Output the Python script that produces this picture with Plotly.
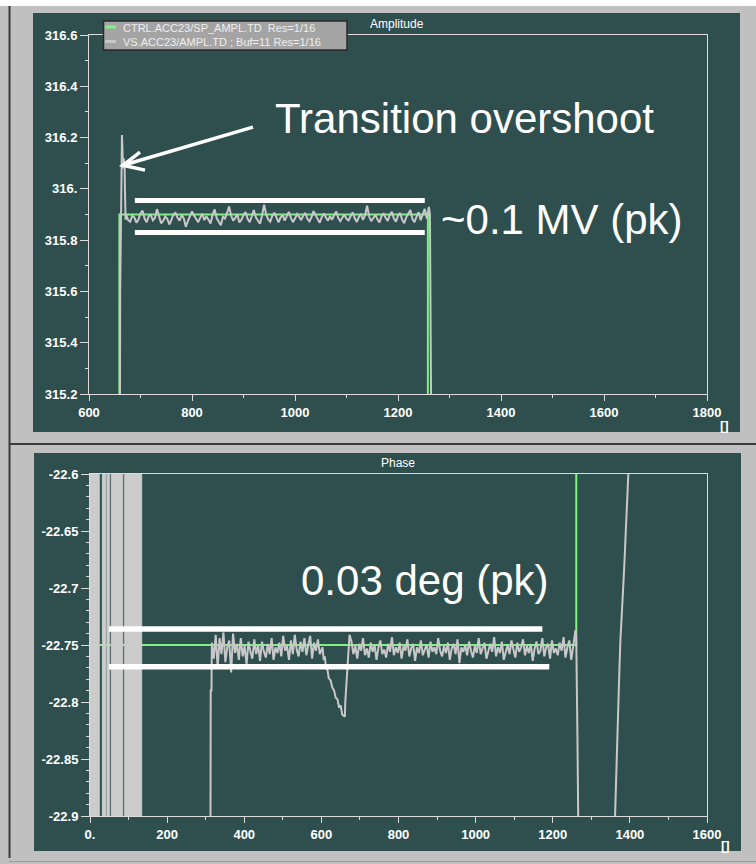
import numpy as np
import plotly.graph_objects as go

W, H = 756, 864

# ---------------- Amplitude panel (MV) ----------------
SP_NAME = "CTRL.ACC23/SP_AMPL.TD  Res=1/16"
MEAS_NAME = "VS.ACC23/AMPL.TD ; Buf=11 Res=1/16"

amp_sp_x = [600, 659, 659, 1258, 1258, 1800]
amp_sp_y = [314.9, 314.9, 315.9, 315.9, 314.9, 314.9]

# rising edge with the transition overshoot
amp_rise_x = [600, 660, 660.5, 661, 662, 663, 664, 665, 666, 667, 669, 670, 671]
amp_rise_y = [314.9, 314.9, 315.59, 315.73, 315.95, 316.10, 316.21, 316.15,
              316.08, 316.12, 316.10, 315.98, 315.88]

# flat top, one sample every 4 units from 672
amp_flat_x0, amp_flat_dx = 672, 4
amp_flat_y = [
    315.902, 315.878, 315.872, 315.895, 315.889, 315.868, 315.880, 315.904, 315.915, 315.884, 315.870, 315.893,
    315.899, 315.877, 315.886, 315.921, 315.894, 315.866, 315.875, 315.892, 315.883, 315.861, 315.879, 315.901,
    315.906, 315.887, 315.876, 315.898, 315.885, 315.852, 315.874, 315.890, 315.912, 315.896, 315.881, 315.870,
    315.888, 315.903, 315.878, 315.893, 315.880, 315.865, 315.899, 315.920, 315.885, 315.872, 315.858, 315.891,
    315.884, 315.906, 315.931, 315.895, 315.876, 315.887, 315.901, 315.869, 315.880, 315.898, 315.910, 315.883,
    315.870, 315.892, 315.917, 315.889, 315.877, 315.864, 315.896, 315.938, 315.900, 315.881, 315.872, 315.895,
    315.907, 315.884, 315.869, 315.888, 315.899, 315.876, 315.893, 315.910, 315.887, 315.870, 315.884, 315.902,
    315.891, 315.878, 315.895, 315.906, 315.883, 315.873, 315.889, 315.913, 315.897, 315.880, 315.868, 315.890,
    315.904, 315.888, 315.876, 315.893, 315.880, 315.897, 315.912, 315.886, 315.874, 315.888, 315.900, 315.883,
    315.877, 315.894, 315.908, 315.885, 315.871, 315.890, 315.903, 315.879, 315.896, 315.934, 315.892, 315.874,
    315.886, 315.899, 315.881, 315.869, 315.893, 315.905, 315.887, 315.875, 315.897, 315.911, 315.884, 315.872,
    315.895, 315.906, 315.880, 315.866, 315.889, 315.902, 315.918, 315.883, 315.870, 315.892, 315.909, 315.878,
    315.897, 315.922, 315.884,
]

# falling edge
amp_fall_x = [1260, 1262, 1263, 1265, 1800]
amp_fall_y = [315.93, 315.90, 315.60, 314.9, 314.9]

amp_xticks = [600, 800, 1000, 1200, 1400, 1600, 1800]
amp_yticks = [315.2, 315.4, 315.6, 315.8, 316.0, 316.2, 316.4, 316.6]
amp_yticktext = ["315.2", "315.4", "315.6", "315.8", "316.", "316.2", "316.4", "316.6"]

# peak-to-peak band markers on the flat top
amp_band_x = [689, 1252]
amp_band_y = [315.955, 315.830]

# ---------------- Phase panel (deg) ----------------
ph_sp_x = [0, 1261, 1261, 1600]
ph_sp_y = [-22.75, -22.75, -22.5, -22.5]

# stretches where the reading swings rail to rail
ph_sat_start = [0, 32, 44, 55, 90]
ph_sat_end = [24, 41, 50, 85, 134]

ph_pre_x = [134, 312, 313, 315]
ph_pre_y = [-23.0, -23.0, -22.79, -22.79]

ph_seg1_x0, ph_seg_dx = 316, 5
ph_seg1_y = [
    -22.748, -22.762, -22.741, -22.770, -22.744, -22.758, -22.739, -22.765, -22.752, -22.746, -22.774, -22.740,
    -22.757, -22.749, -22.763, -22.744, -22.760, -22.751, -22.767, -22.747, -22.756, -22.762, -22.745, -22.758,
    -22.750, -22.764, -22.747, -22.756, -22.761, -22.749, -22.758, -22.744, -22.763, -22.752, -22.757, -22.748,
    -22.760, -22.742, -22.755, -22.751, -22.763, -22.746, -22.758, -22.741, -22.754, -22.760, -22.747, -22.756,
    -22.744, -22.759, -22.750, -22.742, -22.762, -22.748, -22.755, -22.745, -22.758, -22.752,
]

# the dip around 600-670
ph_dip_x = [603, 606, 609, 612, 616, 619, 624, 628, 633, 637, 642, 646, 650, 654,
            658, 661, 662, 664, 666, 668, 670, 673]
ph_dip_y = [-22.752, -22.763, -22.760, -22.770, -22.772, -22.779, -22.781, -22.787,
            -22.790, -22.796, -22.798, -22.805, -22.803, -22.811, -22.812, -22.813,
            -22.800, -22.790, -22.783, -22.770, -22.757, -22.741]

ph_seg2_x0 = 678
ph_seg2_y = [
    -22.747, -22.758, -22.751, -22.762, -22.749, -22.755, -22.744, -22.759, -22.753, -22.761, -22.748, -22.756,
    -22.750, -22.763, -22.752, -22.746, -22.758, -22.754, -22.761, -22.749, -22.756, -22.743, -22.759, -22.752,
    -22.757, -22.748, -22.762, -22.751, -22.755, -22.745, -22.760, -22.753, -22.749, -22.764, -22.752, -22.757,
    -22.746, -22.759, -22.754, -22.750, -22.761, -22.747, -22.756, -22.752, -22.758, -22.744, -22.755, -22.760,
    -22.751, -22.757, -22.748, -22.763, -22.753, -22.749, -22.758, -22.745, -22.766, -22.752, -22.756, -22.750,
    -22.759, -22.747, -22.755, -22.761, -22.751, -22.757, -22.744, -22.758, -22.753, -22.748, -22.762, -22.754,
    -22.749, -22.756, -22.743, -22.760, -22.752, -22.757, -22.747, -22.763, -22.755, -22.750, -22.758, -22.746,
    -22.754, -22.761, -22.748, -22.756, -22.752, -22.745, -22.759, -22.751, -22.757, -22.749, -22.764, -22.753,
    -22.747, -22.758, -22.755, -22.744, -22.760, -22.752, -22.749, -22.762, -22.746, -22.757, -22.753, -22.759,
    -22.748, -22.755, -22.743, -22.761, -22.752, -22.746, -22.763, -22.750, -22.742,
]

ph_end_x = [1259, 1261, 1262, 1264, 1266, 1267, 1361, 1361.6, 1364, 1366.8, 1368, 1370.2,
            1373, 1375.4, 1379, 1382.3, 1385, 1388.4, 1390, 1392.7, 1396, 1397]
ph_end_y = [-22.737, -22.745, -22.765, -22.83, -22.9, -23.0, -23.0, -22.9, -22.872, -22.833,
            -22.815, -22.789, -22.770, -22.746, -22.728, -22.702, -22.684, -22.655, -22.641,
            -22.614, -22.6, -22.5]

ph_xticks = [0, 200, 400, 600, 800, 1000, 1200, 1400, 1600]
ph_xticktext = ["0.", "200", "400", "600", "800", "1000", "1200", "1400", "1600"]
ph_yticks = [-22.9, -22.85, -22.8, -22.75, -22.7, -22.65, -22.6]
ph_yticktext = ["-22.9", "-22.85", "-22.8", "-22.75", "-22.7", "-22.65", "-22.6"]

ph_band_x0 = 49
ph_band_x1 = [1173, 1191]
ph_band_y = [-22.736, -22.769]

# ---------------- styling ----------------
BG = "#c0c0c0"
PANEL = "#2f4f4f"
SP_COLOR = "#80f080"
MEAS_COLOR = "#c8c8c8"
AXIS_COLOR = "#dcdcdc"
TICK_FONT = dict(family="Liberation Sans, Arial, sans-serif", size=13, color="white", weight="bold")


def px(x):
    return x / W


def py(y):
    return 1 - y / H


amp_x = np.concatenate([amp_rise_x,
                        amp_flat_x0 + amp_flat_dx * np.arange(len(amp_flat_y)),
                        amp_fall_x])
amp_y = np.concatenate([amp_rise_y, amp_flat_y, amp_fall_y])

ph_x = np.concatenate([ph_pre_x,
                       ph_seg1_x0 + ph_seg_dx * np.arange(len(ph_seg1_y)),
                       ph_dip_x,
                       ph_seg2_x0 + ph_seg_dx * np.arange(len(ph_seg2_y)),
                       ph_end_x])
ph_y = np.concatenate([ph_pre_y, ph_seg1_y, ph_dip_y, ph_seg2_y, ph_end_y])

sat_x, sat_y = [], []
for s, e in zip(ph_sat_start, ph_sat_end):
    sat_x += [s, s, e, e, None]
    sat_y += [-22.9, -22.6, -22.6, -22.9, None]

fig = go.Figure()

fig.add_trace(go.Scatter(x=amp_sp_x, y=amp_sp_y, mode="lines", name=SP_NAME,
                         line=dict(color=SP_COLOR, width=2), xaxis="x", yaxis="y"))
fig.add_trace(go.Scatter(x=amp_x, y=amp_y, mode="lines", name=MEAS_NAME,
                         line=dict(color=MEAS_COLOR, width=2), xaxis="x", yaxis="y"))

fig.add_trace(go.Scatter(x=ph_sp_x, y=ph_sp_y, mode="lines",
                         line=dict(color=SP_COLOR, width=2), xaxis="x2", yaxis="y2"))
fig.add_trace(go.Scatter(x=sat_x, y=sat_y, mode="lines", fill="toself", fillcolor="#cccccc",
                         line=dict(color="#cccccc", width=1), xaxis="x2", yaxis="y2"))
fig.add_trace(go.Scatter(x=ph_x, y=ph_y, mode="lines",
                         line=dict(color=MEAS_COLOR, width=2), xaxis="x2", yaxis="y2"))

axis_common = dict(showline=True, linecolor=AXIS_COLOR, linewidth=1, mirror=True,
                   showgrid=False, zeroline=False, ticks="outside", tickcolor=AXIS_COLOR,
                   tickfont=TICK_FONT, tickmode="array", fixedrange=True, automargin=False)

shapes = [
    # outer frame pieces
    dict(type="rect", xref="paper", yref="paper", x0=0, x1=1, y0=py(6), y1=1,
         fillcolor="white", line_width=0, layer="above"),
    dict(type="rect", xref="paper", yref="paper", x0=px(33), x1=px(740), y0=py(432), y1=py(13),
         fillcolor=PANEL, line_width=0, layer="below"),
    dict(type="rect", xref="paper", yref="paper", x0=px(34), x1=px(741), y0=py(851), y1=py(453),
         fillcolor=PANEL, line_width=0, layer="below"),
    dict(type="line", xref="paper", yref="paper", x0=px(9.5), x1=px(9.5), y0=py(858), y1=py(6),
         line=dict(color="#3a3a3a", width=2), layer="below"),
    dict(type="line", xref="paper", yref="paper", x0=px(9), x1=1, y0=py(444), y1=py(444),
         line=dict(color="#3a3a3a", width=2), layer="below"),
    dict(type="line", xref="paper", yref="paper", x0=px(9), x1=1, y0=py(861.5), y1=py(861.5),
         line=dict(color="#9a9a9a", width=1), layer="below"),
]

# peak-to-peak band markers
for yv in amp_band_y:
    shapes.append(dict(type="line", xref="x", yref="y", x0=amp_band_x[0], x1=amp_band_x[1],
                       y0=yv, y1=yv, line=dict(color="white", width=5)))
for x1, yv in zip(ph_band_x1, ph_band_y):
    shapes.append(dict(type="line", xref="x2", yref="y2", x0=ph_band_x0, x1=x1,
                       y0=yv, y1=yv, line=dict(color="white", width=5.5)))

# arrow pointing at the overshoot
shapes.append(dict(type="path", xref="x", yref="y",
                   path="M 918.4,316.241 L 666,316.092 M 699,316.143 L 666,316.092 L 708.7,316.073",
                   line=dict(color="white", width=3.5)))

# legend box drawn by hand with short line swatches
shapes += [
    dict(type="rect", xref="paper", yref="paper", x0=px(103.5), x1=px(347), y0=py(50), y1=py(21),
         fillcolor="#a4a4a4", line=dict(color="#2a2a2a", width=1.5)),
    dict(type="line", xref="paper", yref="paper", x0=px(105), x1=px(116), y0=py(27), y1=py(27),
         line=dict(color=SP_COLOR, width=3)),
    dict(type="line", xref="paper", yref="paper", x0=px(105), x1=px(116), y0=py(41.5), y1=py(41.5),
         line=dict(color=MEAS_COLOR, width=3)),
]

LEG_FONT = dict(family="Liberation Sans, Arial, sans-serif", size=11, color="#eeeeee")
BIG_FONT = dict(family="Liberation Sans, Arial, sans-serif", size=42, color="white")
TITLE_FONT = dict(family="Liberation Sans, Arial, sans-serif", size=12, color="white")

annotations = [
    dict(text=SP_NAME.replace("  ", "&nbsp; "), x=px(121), y=py(27.5), xref="paper", yref="paper",
         xanchor="left", yanchor="middle", showarrow=False, font=LEG_FONT),
    dict(text=MEAS_NAME, x=px(121), y=py(42), xref="paper", yref="paper",
         xanchor="left", yanchor="middle", showarrow=False, font=LEG_FONT),
    dict(text="Amplitude", x=px(397), y=py(24), xref="paper", yref="paper",
         xanchor="center", yanchor="middle", showarrow=False, font=TITLE_FONT),
    dict(text="Phase", x=px(398), y=py(463), xref="paper", yref="paper",
         xanchor="center", yanchor="middle", showarrow=False, font=TITLE_FONT),
    dict(text="Transition overshoot", x=px(273), y=py(118), xref="paper", yref="paper",
         xanchor="left", yanchor="middle", showarrow=False, font=BIG_FONT),
    dict(text="~0.1 MV (pk)", x=px(439), y=py(219), xref="paper", yref="paper",
         xanchor="left", yanchor="middle", showarrow=False, font=BIG_FONT),
    dict(text="0.03 deg (pk)", x=px(299), y=py(580), xref="paper", yref="paper",
         xanchor="left", yanchor="middle", showarrow=False, font=BIG_FONT),
    dict(text="[]", x=px(724), y=py(425), xref="paper", yref="paper",
         xanchor="center", yanchor="middle", showarrow=False, font=TICK_FONT),
    dict(text="[]", x=px(725), y=py(845), xref="paper", yref="paper",
         xanchor="center", yanchor="middle", showarrow=False, font=TICK_FONT),
]

fig.update_layout(
    width=W, height=H, margin=dict(l=0, r=0, t=0, b=0, autoexpand=False),
    paper_bgcolor=BG, plot_bgcolor=PANEL, showlegend=False,
    xaxis=dict(axis_common, domain=[px(89), px(707)], range=[600, 1800], anchor="y",
               tickvals=amp_xticks, ticklen=6,
               minor=dict(tickmode="linear", tick0=600, dtick=100, ticks="outside",
                          ticklen=3, tickcolor=AXIS_COLOR)),
    yaxis=dict(axis_common, domain=[py(394), py(35)], range=[315.2, 316.6], anchor="x",
               tickvals=amp_yticks, ticktext=amp_yticktext, ticklen=8,
               minor=dict(tickmode="linear", tick0=315.2, dtick=0.1, ticks="outside",
                          ticklen=3, tickcolor=AXIS_COLOR)),
    xaxis2=dict(axis_common, domain=[px(90), px(707)], range=[0, 1600], anchor="y2",
                tickvals=ph_xticks, ticktext=ph_xticktext, ticklen=6,
                minor=dict(tickmode="linear", tick0=0, dtick=100, ticks="outside",
                           ticklen=3, tickcolor=AXIS_COLOR)),
    yaxis2=dict(axis_common, domain=[py(816), py(474)], range=[-22.9, -22.6], anchor="x2",
                tickvals=ph_yticks, ticktext=ph_yticktext, ticklen=8,
                minor=dict(tickmode="linear", tick0=-22.9, dtick=0.01, ticks="outside",
                           ticklen=3, tickcolor=AXIS_COLOR)),
    shapes=shapes,
    annotations=annotations,
)

fig.write_html("out.html")
